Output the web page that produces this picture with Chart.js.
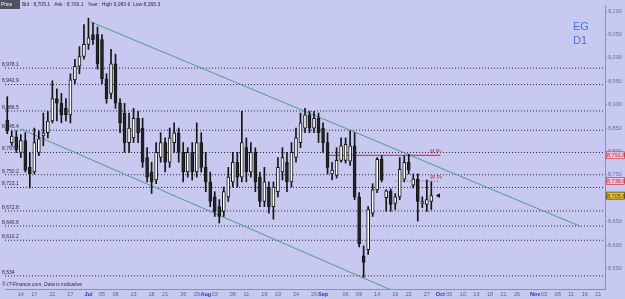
<!DOCTYPE html>
<html>
<head>
<meta charset="utf-8">
<script src="https://cdn.jsdelivr.net/npm/chart.js@4/dist/chart.umd.min.js"></script>
<style>
  html, body { margin: 0; padding: 0; background: #c8c9f1; }
  canvas { display: block; }
</style>
</head>
<body>
<canvas id="chart" width="625" height="299"></canvas>
<script>
/* daily candles (price) */
const opens  = [8867,8819,8831,8798,8823,8766,8756,8798,8833,8840,8865,8913,8903,8892,8878,8953,8982,9003,9029,9050,
                9050,9039,8955,8924,8987,8903,8882,8819,8829,8871,8850,8787,8756,8739,8787,8819,8777,8819,8840,8798,
                8756,8798,8756,8819,8766,8735,8703,8682,8672,8703,8735,8777,8745,8808,8756,8798,8745,8693,8724,8682,
                8714,8756,8777,8735,8787,8819,8850,8878,8850,8871,8850,8819,8752,8749,8781,8781,8779,8812,8703,8577,
                8590,8668,8718,8783,8701,8716,8689,8703,8741,8777,8728,8741,8689,8687,8693];
const highs  = [8917,8844,8844,8836,8840,8798,8850,8844,8882,8886,8951,8934,8924,8913,8966,8997,9024,9071,9085,9075,
                9066,9050,8966,9018,9008,8913,8903,8882,8892,8886,8871,8808,8777,8819,8840,8829,8850,8861,8850,8819,
                8808,8819,8861,8840,8798,8756,8714,8697,8724,8766,8798,8798,8886,8829,8819,8808,8756,8766,8735,8735,
                8787,8808,8798,8819,8850,8882,8892,8886,8886,8882,8861,8840,8777,8808,8829,8829,8844,8840,8712,8598,
                8682,8731,8787,8791,8718,8720,8710,8787,8791,8794,8752,8752,8703,8739,8735];
const lows   = [8838,8813,8798,8787,8756,8722,8752,8791,8812,8829,8861,8865,8861,8865,8861,8945,8966,8997,9018,9029,
                8976,8945,8903,8913,8892,8840,8798,8798,8819,8819,8766,8735,8710,8731,8777,8756,8766,8798,8777,8735,
                8745,8739,8745,8756,8714,8682,8661,8647,8661,8693,8724,8724,8735,8735,8745,8714,8682,8682,8668,8655,
                8703,8739,8714,8724,8777,8808,8840,8840,8840,8819,8798,8752,8739,8743,8777,8775,8770,8697,8596,8531,
                8580,8661,8712,8735,8672,8672,8676,8697,8735,8752,8722,8651,8680,8672,8676];
const closes = [8844,8833,8804,8823,8760,8752,8819,8827,8840,8865,8913,8903,8878,8878,8953,8982,9003,9029,9043,9039,
                8987,8955,8913,8987,8903,8861,8819,8850,8871,8840,8777,8745,8735,8798,8819,8777,8829,8840,8798,8756,
                8798,8756,8819,8766,8735,8693,8672,8661,8714,8745,8777,8745,8819,8756,8798,8735,8693,8735,8682,8724,
                8766,8787,8735,8798,8829,8861,8878,8850,8871,8840,8819,8766,8760,8781,8812,8815,8812,8703,8603,8563,
                8676,8718,8783,8739,8716,8687,8703,8762,8777,8760,8741,8693,8693,8697,8705.6];

/* x slots (trading days incl. projected future), label where the chart shows one */
const days = [
  '', '', '', '14', '', '', '17', '', '', '',
  '22', '', '', '', '27', '', '', '', 'Jul', '',
  '', '05', '', '', '08', '', '', '', '13', '',
  '', '', '18', '', '', '21', '', '', '', '26',
  '', '', '29', '', 'Aug', '', '03', '', '', '',
  '08', '', '', '11', '', '', '', '16', '', '',
  '19', '', '', '', '24', '', '', '', '29', '',
  'Sep', '', '', '', '', '06', '', '', '09', '',
  '', '', '14', '', '', '', '19', '', '', '22',
  '', '', '', '27', '', '', 'Oct', '', '05', '',
  '', '10', '', '', '13', '', '', '18', '', '',
  '21', '', '', '26', '', '', '', 'Nov', '', '03',
  '', '', '08', '', '', '11', '', '', '16', '',
  '', '21', ''
];
const months = ['Jul', 'Aug', 'Sep', 'Oct', 'Nov'];

const priceTicks = [8550, 8600, 8650, 8700, 8750, 8800, 8850, 8900, 8950, 9000, 9050, 9100];

/* horizontal levels drawn on the chart */
const levels    = [8978.1, 8942.9, 8886.5, 8845.4, 8797.7, 8750.2, 8723.1, 8672.8, 8640.6, 8610.2, 8534];
const levelText = ['8,978.1', '8,942.9', '8,886.5', '8,845.4', '8,797.7', '8,750.2', '8,723.1', '8,672.8', '8,640.6', '8,610.2', '8,534'];

/* trend channel [slot, price] */
const upperChannel = [[18.5, 9077], [127, 8640]];
const lowerChannel = [[3, 8848], [86, 8500]];

/* pivots */
const monthPivot = [[71, 8791.8], [96, 8791.8]];
const weekPivot  = [[86, 8736.6], [96, 8736.6]];
const lastPrice  = 8705.6;
const lastMark   = [[95.6, 8705.6]];

const header = 'Bid : 8,705.1   Ask : 8,706.1   Year : High 9,083.6  Low 8,265.3';

const toXY = pts => pts.map(p => ({ x: p[0], y: p[1] }));
const lastSlot = days.length - 0.5;

const levelSets = levels.map(v => ({
  type: 'line', xAxisID: 'xl', order: 10,
  data: [{ x: -0.5, y: v }, { x: lastSlot, y: v }],
  borderColor: '#23233a', borderWidth: 1, borderDash: [1, 2],
  pointRadius: 0
}));

const overlay = {
  id: 'overlay',
  beforeDraw(chart) {
    const c = chart.ctx;
    c.save();
    c.fillStyle = '#c8c9f1';
    c.fillRect(0, 0, chart.width, chart.height);
    c.restore();
  },
  afterDraw(chart) {
    const c = chart.ctx, x = chart.scales.x, y = chart.scales.y, xl = chart.scales.xl;
    c.save();

    // date labels under the x axis
    c.textAlign = 'center';
    c.textBaseline = 'middle';
    days.forEach((d, i) => {
      if (!d) return;
      const isMonth = months.includes(d);
      c.font = (isMonth ? 'bold ' : '') + '5.5px "Liberation Sans"';
      c.fillStyle = isMonth ? '#2838a8' : '#5c5c98';
      c.fillText(d, x.getPixelForValue(i), 294);
    });
    c.textAlign = 'left';

    // level labels
    c.font = '5px "Liberation Sans"';
    c.fillStyle = '#2a2a3a';
    c.textBaseline = 'bottom';
    levels.forEach((v, i) => c.fillText(levelText[i], 2, y.getPixelForValue(v) - 1));

    // pivot labels
    c.fillStyle = '#c8283c';
    c.fillText('M Pv', xl.getPixelForValue(monthPivot[1][0]) - 10, y.getPixelForValue(monthPivot[1][1]) - 1);
    c.fillText('W Pv', xl.getPixelForValue(weekPivot[1][0]) - 10, y.getPixelForValue(weekPivot[1][1]) - 1);

    // right-hand price boxes
    const boxes = [
      [monthPivot[0][1], '#efc6d6', '#c0203c'],
      [weekPivot[0][1], '#efc6d6', '#c0203c'],
      [lastPrice, '#e9c23c', '#3a3000']
    ];
    c.textBaseline = 'middle';
    c.font = '5.5px "Liberation Sans"';
    boxes.forEach(b => {
      const py = y.getPixelForValue(b[0]);
      c.fillStyle = b[1];
      c.fillRect(606, py - 4, 19, 8);
      c.strokeStyle = b[2];
      c.lineWidth = 0.6;
      c.strokeRect(606.5, py - 3.5, 18, 7);
      c.fillStyle = b[2];
      c.fillText(b[0].toLocaleString('en-US', { minimumFractionDigits: 1 }), 607, py + 0.5);
    });

    // header
    c.fillStyle = '#505060';
    c.fillRect(0, 0, 20, 9);
    c.fillStyle = '#ffffff';
    c.font = '5px "Liberation Sans"';
    c.fillText('Price', 1, 4.5);
    c.fillStyle = '#2a2a3a';
    c.fillText(header, 22, 5);

    // symbol and timeframe
    c.fillStyle = '#4d72d4';
    c.font = '11px "Liberation Sans"';
    c.textBaseline = 'alphabetic';
    c.fillText('EG', 573, 30);
    c.fillText('D1', 573, 44);

    // source
    c.font = 'italic 5px "Liberation Sans"';
    c.fillStyle = '#2a2a3a';
    c.fillText('\u00a9 IT-Finance.com. Data is indicative', 2, 286);
    c.restore();
  }
};

new Chart(document.getElementById('chart'), {
  type: 'bar',
  data: {
    labels: days,
    datasets: [
      ...levelSets,
      { type: 'line', xAxisID: 'xl', order: 5, data: toXY(upperChannel), borderColor: '#4f9c84', borderWidth: 1, pointRadius: 0 },
      { type: 'line', xAxisID: 'xl', order: 5, data: toXY(lowerChannel), borderColor: '#4f9c84', borderWidth: 1, pointRadius: 0 },
      { type: 'line', xAxisID: 'xl', order: 4, data: toXY(monthPivot), borderColor: '#d0283c', borderWidth: 1, pointRadius: 0 },
      { type: 'line', xAxisID: 'xl', order: 4, data: toXY(weekPivot), borderColor: '#d0283c', borderWidth: 1, borderDash: [1, 2], pointRadius: 0 },
      {
        type: 'scatter', xAxisID: 'xl', order: 3, data: toXY(lastMark),
        pointStyle: 'triangle', rotation: -90, radius: 2, backgroundColor: '#151515', borderColor: '#151515'
      },
      {
        label: 'wick', order: 2, grouped: false, barThickness: 1,
        data: lows.map((l, i) => [l, highs[i]]),
        backgroundColor: '#151515'
      },
      {
        label: 'body', order: 1, grouped: false, barThickness: 3,
        data: opens.map((o, i) => [o, closes[i]]),
        backgroundColor: opens.map((o, i) => closes[i] >= o ? '#ffffff' : '#262626'),
        borderColor: '#151515', borderWidth: 1, borderSkipped: false
      }
    ]
  },
  options: {
    responsive: false,
    animation: false,
    layout: { padding: 0 },
    plugins: { legend: { display: false }, tooltip: { enabled: false } },
    scales: {
      x: {
        offset: true,
        grid: { display: false },
        border: { color: '#8a8ac4' },
        ticks: { display: false },
        afterFit(s) { s.height = 10; }
      },
      xl: { type: 'linear', display: false, offset: false, grid: { offset: false }, min: -0.5, max: lastSlot },
      y: {
        position: 'right',
        min: 8506, max: 9113,
        afterBuildTicks(s) { s.ticks = priceTicks.map(v => ({ value: v })); },
        grid: { drawOnChartArea: false, tickLength: 2, color: '#8a8ac4' },
        border: { color: '#8a8ac4' },
        ticks: {
          padding: 1, color: '#6c6ca4',
          font: { family: 'Liberation Sans', size: 5.5 },
          callback: v => v.toLocaleString('en-US')
        },
        afterFit(s) { s.width = 20; }
      }
    }
  },
  plugins: [overlay]
});
</script>
</body>
</html>
